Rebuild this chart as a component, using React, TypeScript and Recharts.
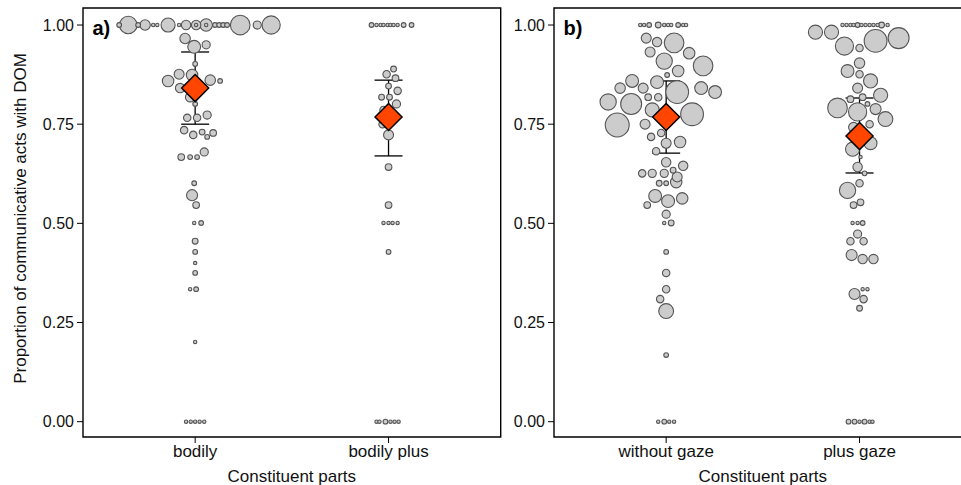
import React from 'react'
import {
  ScatterChart,
  Scatter,
  XAxis,
  YAxis,
  ZAxis,
  ErrorBar,
  ReferenceArea,
} from 'recharts'

const FONT = '"Liberation Sans", Arial, Helvetica, sans-serif'

// category labels
const bodilyCats = ['bodily', 'bodily plus']
const gazeCats = ['without gaze', 'plus gaze']

const yTicks = [0, 0.25, 0.5, 0.75, 1]

// each point: [proportion with DOM, swarm offset (category units), number of acts]
const bodilyPts: [number, number, number][] = [
  [1, -0.393, 2], [1, -0.346, 28], [1, -0.295, 2], [1, -0.259, 10], [1, -0.217, 1],
  [1, -0.196, 1], [1, -0.14, 18], [1, -0.083, 1], [1, -0.047, 8], [1, 0.005, 8],
  [1, 0.005, 1], [1, 0.057, 14], [1, 0.057, 1], [1, 0.103, 2], [1, 0.124, 2],
  [1, 0.145, 2], [1, 0.165, 2], [1, 0.233, 35], [1, 0.321, 6], [1, 0.393, 30],
  [0.966, -0.052, 10], [0.945, -0.005, 15], [0.95, 0.057, 6], [0.902, 0, 2],
  [0.859, -0.14, 12], [0.876, -0.083, 9], [0.874, -0.016, 12], [0.861, 0.078, 10],
  [0.859, 0.129, 2], [0.841, -0.078, 8], [0.818, -0.026, 8], [0.801, 0, 2],
  [0.766, -0.041, 5], [0.766, 0.01, 5], [0.773, 0.062, 6], [0.735, -0.057, 5],
  [0.723, -0.01, 5], [0.73, 0.036, 3], [0.718, 0.062, 2], [0.728, 0.093, 4],
  [0.667, -0.072, 4], [0.667, -0.026, 2], [0.667, 0.01, 2], [0.68, 0.047, 6],
  [0.601, -0.005, 2], [0.571, -0.016, 11], [0.546, 0.005, 4], [0.501, -0.005, 1],
  [0.501, 0.031, 2], [0.455, 0, 3], [0.428, 0, 2], [0.4, 0, 1], [0.375, 0, 2],
  [0.334, -0.026, 1], [0.334, 0.005, 2], [0.201, 0, 1],
  [0, -0.047, 1], [0, -0.023, 1], [0, 0, 1], [0, 0.023, 1], [0, 0.047, 1],
]

const bodilyPlusPts: [number, number, number][] = [
  [1, -0.088, 2], [1, -0.062, 1], [1, -0.041, 1], [1, -0.026, 1], [1, -0.005, 1],
  [1, 0.01, 1], [1, 0.026, 1], [1, 0.047, 1], [1, 0.078, 2], [1, 0.119, 2],
  [0.889, 0.026, 3], [0.876, -0.01, 5], [0.866, 0.036, 4], [0.846, 0, 3],
  [0.834, 0.047, 5], [0.818, -0.036, 3], [0.818, 0.005, 3], [0.801, 0.041, 6],
  [0.786, -0.026, 5], [0.75, -0.031, 5], [0.723, 0, 9], [0.642, 0, 4],
  [0.546, 0, 4], [0.501, -0.026, 1], [0.501, 0, 1], [0.501, 0.021, 1],
  [0.501, 0.047, 1], [0.428, 0, 2],
  [0, -0.062, 1], [0, -0.047, 1], [0, -0.016, 2], [0, 0.01, 1], [0, 0.031, 1], [0, 0.052, 1],
]

const withoutGazePts: [number, number, number][] = [
  [1, -0.134, 1], [1, -0.114, 1], [1, -0.088, 2], [1, -0.041, 3], [1, -0.01, 1],
  [1, 0.01, 1], [1, 0.026, 1], [1, 0.062, 2], [1, 0.088, 1], [1, 0.103, 1],
  [0.967, -0.103, 9], [0.957, -0.047, 8], [0.955, 0.041, 35], [0.932, -0.083, 9],
  [0.929, 0.119, 12], [0.909, -0.01, 24], [0.897, 0.191, 35], [0.884, 0.062, 12],
  [0.874, 0.005, 2], [0.859, -0.176, 15], [0.856, -0.047, 15], [0.841, -0.238, 10],
  [0.841, -0.119, 9], [0.831, 0.057, 47], [0.841, 0.181, 15], [0.831, 0.253, 15],
  [0.818, -0.093, 4], [0.818, -0.041, 5], [0.806, -0.3, 24], [0.801, -0.181, 40],
  [0.786, -0.072, 18], [0.775, 0.134, 47], [0.748, -0.253, 52], [0.75, -0.109, 9],
  [0.728, -0.026, 5], [0.718, -0.078, 5], [0.702, 0, 9], [0.705, 0.072, 12],
  [0.682, -0.052, 5], [0.654, 0, 8], [0.645, 0.088, 8], [0.626, -0.124, 5],
  [0.626, -0.072, 6], [0.626, -0.01, 6], [0.634, 0.036, 3], [0.617, 0.057, 9],
  [0.601, -0.036, 3], [0.601, 0, 2], [0.604, 0.052, 12], [0.569, -0.057, 15],
  [0.556, 0.01, 15], [0.563, 0.083, 12], [0.546, -0.098, 4], [0.523, 0, 6],
  [0.501, -0.01, 1], [0.501, 0.026, 3], [0.428, 0, 2], [0.375, 0, 5],
  [0.334, 0, 5], [0.309, -0.031, 5], [0.279, 0, 20], [0.168, 0, 2],
  [0, -0.041, 1], [0, -0.01, 2], [0, 0.016, 1], [0, 0.041, 1],
]

const plusGazePts: [number, number, number][] = [
  [1, -0.088, 1], [1, -0.067, 1], [1, -0.047, 1], [1, -0.031, 1], [1, -0.01, 2],
  [1, 0.01, 1], [1, 0.031, 1], [1, 0.052, 1], [1, 0.072, 1], [1, 0.093, 1],
  [1, 0.114, 3], [1, 0.145, 1],
  [0.982, -0.228, 18], [0.982, -0.145, 18], [0.947, -0.078, 30], [0.942, 0, 5],
  [0.96, 0.083, 47], [0.967, 0.202, 40], [0.904, 0, 10], [0.884, -0.062, 15],
  [0.876, 0, 5], [0.859, 0.057, 18], [0.841, -0.01, 9], [0.823, 0.109, 18],
  [0.813, -0.047, 4], [0.818, 0.016, 4], [0.801, 0.041, 2], [0.791, -0.114, 35],
  [0.781, -0.01, 30], [0.788, 0.083, 11], [0.763, 0.134, 20], [0.75, 0.052, 5],
  [0.742, -0.031, 9], [0.702, 0.057, 15], [0.687, -0.036, 18], [0.667, 0.005, 1],
  [0.642, -0.01, 8], [0.626, 0.026, 2], [0.601, 0, 5], [0.583, -0.062, 24],
  [0.546, -0.031, 4], [0.553, 0.005, 4], [0.501, -0.036, 1], [0.501, -0.01, 1],
  [0.501, 0.016, 2], [0.473, -0.01, 6], [0.455, -0.047, 5], [0.455, 0.021, 5],
  [0.42, -0.041, 11], [0.41, 0.016, 8], [0.41, 0.072, 8], [0.334, 0.016, 1],
  [0.334, 0.041, 1], [0.322, -0.026, 11], [0.309, 0.021, 5], [0.286, 0, 3],
  [0, -0.057, 2], [0, -0.026, 2], [0, 0, 1], [0, 0.026, 2], [0, 0.052, 1], [0, 0.067, 1],
]

// mean and 95% CI per category
const bodilyMeans = [0.841, 0.768]
const bodilyLow = [0.75, 0.67]
const bodilyHigh = [0.932, 0.861]

const gazeMeans = [0.768, 0.72]
const gazeLow = [0.677, 0.627]
const gazeHigh = [0.859, 0.816]

const X_DOMAIN: [number, number] = [0.42, 2.58]
const Y_DOMAIN: [number, number] = [-0.0386, 1.0429]
const PLOT_W = 417.7

const Diamond = (props: any) => {
  const { cx, cy } = props
  const r = 13.5
  return (
    <polygon
      points={`${cx},${cy - r} ${cx + r},${cy} ${cx},${cy + r} ${cx - r},${cy}`}
      fill="#ff4500"
      stroke="#000"
      strokeWidth={1.5}
    />
  )
}

interface PanelProps {
  width: number
  yAxisWidth: number
  cats: string[]
  groups: [number, number, number][][]
  means: number[]
  lows: number[]
  highs: number[]
  tag: string
  yTitle?: string
}

function Panel({ width, yAxisWidth, cats, groups, means, lows, highs, tag, yTitle }: PanelProps) {
  const points = groups
    .flatMap((pts, i) => pts.map(([y, off, n]) => ({ x: i + 1 + off, y, n })))
    .sort((a, b) => b.n - a.n)
  const summary = means.map((m, i) => ({ x: i + 1, y: m, err: [m - lows[i], highs[i] - m] }))

  return (
    <ScatterChart
      width={width}
      height={485}
      margin={{ top: 8, right: width - yAxisWidth - PLOT_W, bottom: 0, left: 0 }}
      style={{ fontFamily: FONT }}
    >
      <XAxis
        type="number"
        dataKey="x"
        domain={X_DOMAIN}
        ticks={[1, 2]}
        tickFormatter={(v) => cats[v - 1]}
        allowDataOverflow
        axisLine={false}
        stroke="#000"
        tickSize={6}
        tickMargin={2}
        height={48}
        tick={{ fill: '#111', fontSize: 17 }}
        label={{ value: 'Constituent parts', position: 'insideBottom', offset: 3, fill: '#111', fontSize: 17 }}
      />
      <YAxis
        type="number"
        dataKey="y"
        domain={Y_DOMAIN}
        ticks={yTicks}
        tickFormatter={(v) => v.toFixed(2)}
        allowDataOverflow
        axisLine={false}
        stroke="#000"
        width={yAxisWidth}
        tickSize={6}
        tickMargin={3}
        tick={{ fill: '#111', fontSize: 16 }}
        label={
          yTitle
            ? {
                value: yTitle,
                angle: -90,
                position: 'insideLeft',
                offset: 20,
                dy: -4,
                fill: '#111',
                fontSize: 17,
                style: { textAnchor: 'middle' },
              }
            : undefined
        }
      />
      <ZAxis type="number" dataKey="n" domain={[1, 52]} range={[9, 450]} />
      <ReferenceArea
        x1={X_DOMAIN[0]}
        x2={X_DOMAIN[1]}
        y1={Y_DOMAIN[0]}
        y2={Y_DOMAIN[1]}
        fill="none"
        stroke="#000"
        strokeWidth={1.4}
        ifOverflow="visible"
        label={(p: any) => (
          <text
            x={p.viewBox.x + 9.5}
            y={p.viewBox.y + 26.5}
            fontSize={20}
            fontWeight="bold"
            fontFamily={FONT}
            fill="#000"
          >
            {tag}
          </text>
        )}
      />
      <Scatter data={points} fill="#cccccc" stroke="#555555" strokeWidth={1.1} isAnimationActive={false} />
      <Scatter data={summary} shape={Diamond} isAnimationActive={false}>
        <ErrorBar dataKey="err" direction="y" width={14} stroke="#000" strokeWidth={1.3} />
      </Scatter>
    </ScatterChart>
  )
}

export default function App() {
  return (
    <div
      style={{
        position: 'absolute',
        left: 0,
        top: 0,
        width: 961,
        height: 485,
        overflow: 'hidden',
        background: '#fff',
      }}
    >
      <div style={{ position: 'absolute', left: 0, top: 0 }}>
        <Panel
          width={520}
          yAxisWidth={83}
          cats={bodilyCats}
          groups={[bodilyPts, bodilyPlusPts]}
          means={bodilyMeans}
          lows={bodilyLow}
          highs={bodilyHigh}
          tag="a)"
          yTitle="Proportion of communicative acts with DOM"
        />
      </div>
      <div style={{ position: 'absolute', left: 505, top: 0 }}>
        <Panel
          width={480}
          yAxisWidth={49}
          cats={gazeCats}
          groups={[withoutGazePts, plusGazePts]}
          means={gazeMeans}
          lows={gazeLow}
          highs={gazeHigh}
          tag="b)"
        />
      </div>
    </div>
  )
}
